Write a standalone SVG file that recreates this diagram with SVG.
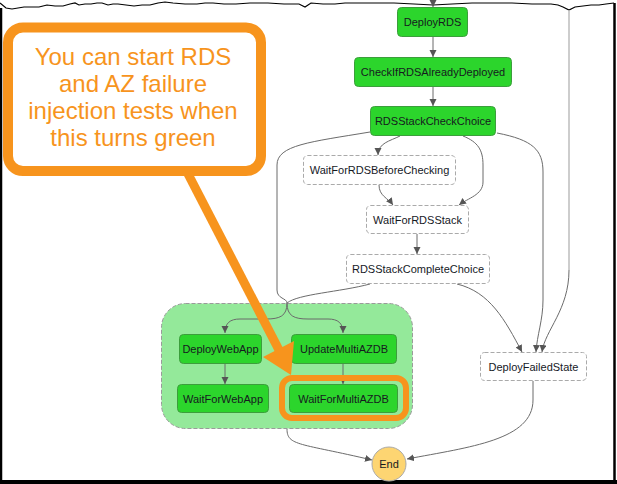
<svg xmlns="http://www.w3.org/2000/svg" width="617" height="484" viewBox="0 0 617 484">
<style>
.g{fill:#2cd52c;stroke:#3c9e3c;stroke-width:1}
.w{fill:#ffffff;stroke:#aaaaaa;stroke-width:1;stroke-dasharray:4,2}
.t{font-family:"Liberation Sans",Arial,sans-serif;font-size:11px;fill:#16191f;text-anchor:middle}
.c{fill:none;stroke:#6b6b6b;stroke-width:1}
.call{font-family:"Liberation Sans",Arial,sans-serif;font-size:24px;fill:#f7941d;text-anchor:middle}
</style>
<defs>
<marker id="ah" markerUnits="userSpaceOnUse" markerWidth="8" markerHeight="8" refX="7" refY="3.5" orient="auto">
<path d="M0,0 L7,3.5 L0,7 z" fill="#555555"/>
</marker>
</defs>
<rect x="0" y="0" width="617" height="484" fill="#ffffff"/>
<!-- frame -->
<path d="M0,3 L6,8 L12,9 L24,7 L39,7 L47,5 L55,6 L63,6 L70,4 L75,3 L79,5 L85,4 L91,4 L97,3 L102,3 L108,5 L113,4 L118,4 L126,5 L134,6 L142,5 L150,5 L158,3 L165,2 L173,3 L185,4 L197,4 L205,3 L213,3 L224,4 L236,4 L250,3 L268,3 L284,4 L299,4 L305,7 L311,3 L323,4 L335,4 L345,3 L354,3 L375,3 L394,3 L414,4 L433,5 L452,4 L472,3 L492,3 L512,3 L532,4 L551,4 L558,5 L563,7 L569,10 L575,7 L583,6 L591,5 L599,5 L606,4 L614,3" fill="none" stroke="#000000" stroke-width="1.2"/>
<line x1="1" y1="8" x2="1" y2="484" stroke="#000000" stroke-width="2.5"/>
<line x1="614.5" y1="3" x2="614.5" y2="484" stroke="#000000" stroke-width="2.5"/>
<line x1="0" y1="482" x2="617" y2="482" stroke="#000000" stroke-width="4"/>

<!-- parallel container -->
<g id="parallel">
<rect x="161.5" y="303.5" width="251" height="125" rx="24" fill="#94e99a" stroke="#9a9a9a" stroke-width="1" stroke-dasharray="4,2"/>
</g>

<g id="connectors">
<path class="c" d="M433,3 L433,7" marker-end="url(#ah)"/>
<path class="c" d="M433,37 L433,57" marker-end="url(#ah)"/>
<path class="c" d="M433,87 L433,106" marker-end="url(#ah)"/>
<path class="c" d="M400,136 C390,141 378,143 378,155" marker-end="url(#ah)"/>
<path class="c" d="M463,136 C478,142 483,150 483,165 L483,182 C483,195 468,198 459,205" marker-end="url(#ah)"/>
<path class="c" d="M379,185 C379,196 388,198 393,205" marker-end="url(#ah)"/>
<path class="c" d="M417,234 L417,254" marker-end="url(#ah)"/>
<path class="c" d="M370,132 C310,142 277,145 277,165 L277,290 C277,299 287,298 287,303"/>
<path class="c" d="M370,284 C340,292 298,294 287,303"/>
<path class="c" d="M287,303 C287,316 280,319 266,319 L240,319 C230,319 225,323 225,333" marker-end="url(#ah)"/>
<path class="c" d="M287,303 C287,316 294,319 308,319 L328,319 C338,319 343,323 343,333" marker-end="url(#ah)"/>
<path class="c" d="M225,364 L225,384" marker-end="url(#ah)"/>
<path class="c" d="M343,364 L343,384" marker-end="url(#ah)"/>
<path class="c" d="M287,429 C287,446 300,443 372,460" marker-end="url(#ah)"/>
<path class="c" d="M533,381 L533,400 C533,440 470,447 407,459" marker-end="url(#ah)"/>
<path class="c" d="M457,284 C490,292 505,320 522,352" marker-end="url(#ah)"/>
<path class="c" d="M497,133 C533,140 543,150 543,172 L543,300 C543,320 537,335 536,352" marker-end="url(#ah)"/>
<path d="M569,10 L569,270" fill="none" stroke="#bdbdbd" stroke-width="1.5"/>
<path class="c" d="M569,270 C569,310 545,330 542,352" marker-end="url(#ah)"/>
</g>

<g id="DeployRDS"><rect class="g" x="397.5" y="7.5" width="70" height="29" rx="4"/><text class="t" x="432.5" y="26">DeployRDS</text></g>
<g id="CheckIfRDSAlreadyDeployed"><rect class="g" x="354.5" y="57.5" width="157" height="29" rx="4"/><text class="t" x="433" y="76">CheckIfRDSAlreadyDeployed</text></g>
<g id="RDSStackCheckChoice"><rect class="g" x="370.5" y="106.5" width="125" height="29" rx="4"/><text class="t" x="433" y="125">RDSStackCheckChoice</text></g>
<g id="WaitForRDSBeforeChecking"><rect class="w" x="303.5" y="155.5" width="152" height="29" rx="4"/><text class="t" x="379.5" y="174">WaitForRDSBeforeChecking</text></g>
<g id="WaitForRDSStack"><rect class="w" x="366.5" y="205.5" width="102" height="28" rx="4"/><text class="t" x="417.5" y="223.5">WaitForRDSStack</text></g>
<g id="RDSStackCompleteChoice"><rect class="w" x="346.5" y="254.5" width="143" height="29" rx="4"/><text class="t" x="418" y="273">RDSStackCompleteChoice</text></g>
<g id="DeployWebApp"><rect class="g" x="179.5" y="334.5" width="82" height="29" rx="4"/><text class="t" x="220.5" y="353">DeployWebApp</text></g>
<g id="UpdateMultiAZDB"><rect class="g" x="291.5" y="334.5" width="105" height="29" rx="4"/><text class="t" x="344" y="353">UpdateMultiAZDB</text></g>
<g id="WaitForWebApp"><rect class="g" x="177.5" y="384.5" width="91" height="28" rx="4"/><text class="t" x="223" y="402.5">WaitForWebApp</text></g>
<g id="WaitForMultiAZDB"><rect class="g" x="289.5" y="384.5" width="108" height="28" rx="4"/><text class="t" x="343.5" y="402.5">WaitForMultiAZDB</text></g>
<g id="DeployFailedState"><rect class="w" x="480.5" y="352.5" width="106" height="28" rx="4"/><text class="t" x="533.5" y="370.5">DeployFailedState</text></g>
<g id="End"><circle cx="389" cy="464" r="17" fill="#fdd572" stroke="#aaaaaa" stroke-width="1"/><text class="t" x="389" y="468">End</text></g>

<g id="callout">
<rect x="8" y="27.5" width="253" height="143.5" rx="15" fill="#ffffff" stroke="#f7941d" stroke-width="10"/>
<text class="call" x="133" y="65">You can start RDS</text>
<text class="call" x="133" y="92">and AZ failure</text>
<text class="call" x="133" y="119">injection tests when</text>
<text class="call" x="133" y="146">this turns green</text>
<line x1="186" y1="170" x2="279" y2="350" stroke="#f7941d" stroke-width="9"/>
<polygon points="263,357 294,341 291,375" fill="#f7941d"/>
</g>
<g id="highlight">
<rect x="282" y="378" width="124" height="40" rx="10" fill="none" stroke="#f7941d" stroke-width="6"/>
</g>
</svg>
